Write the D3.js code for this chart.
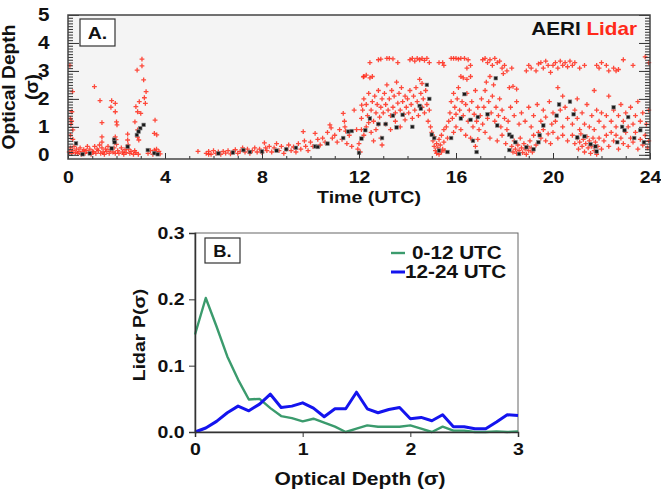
<!DOCTYPE html>
<html>
<head>
<meta charset="utf-8">
<script src="https://cdnjs.cloudflare.com/ajax/libs/d3/7.8.5/d3.min.js"></script>
<style>
  body { margin: 0; background: #fff; }
  text { font-family: "Liberation Sans", Arial, sans-serif; font-weight: bold; fill: #111; }
  .axis path, .axis line { stroke: #333; }
</style>
</head>
<body>
<div id="vis"></div>
<script>
// ---- panel A data: [time (UTC), optical depth] ----
var lidarPoints = [
  [0.05,0.1],[0.1,0.25],[0.15,0.05],[0.2,0.15],[0.25,0.3],[0.3,0.08],[0.35,0.2],[0.4,0.05],[0.45,0.12],[0.5,0.25],
  [0.55,0.02],[0.6,0.1],[0.65,0.18],[0.7,0.05],[0.75,0.15],[0.8,0.3],[0.85,0.08],[0.9,0.2],[0.95,0.02],[1.0,0.12],
  [0.08,3.2],[0.19,2.26],[0.16,1.54],[0.15,1.2],[0.12,1.1],[0.2,0.89],[0.1,0.7],[0.2,0.55],[0.1,1.3],
  [1.05,0.1],[1.1,0.3],[1.15,0.05],[1.2,0.2],[1.25,0.15],[1.3,0.35],[1.35,0.05],[1.4,0.25],[1.45,0.1],[1.5,0.02],
  [1.55,0.2],[1.6,0.12],[1.65,0.3],[1.7,0.05],[1.75,0.18],[1.85,0.1],[1.9,0.25],[1.95,0.05],
  [1.09,2.44],[1.32,1.94],[1.8,1.94],[1.95,1.84],[1.77,1.7],[1.95,1.54],[1.4,1.15],[2.0,1.18],[2.02,1.07],
  [1.4,0.64],[1.4,0.45],[1.95,0.64],[1.98,0.54],[2.0,0.37],
  [2.05,0.15],[2.1,0.05],[2.2,0.25],[2.25,0.1],[2.3,0.02],[2.35,0.18],[2.4,0.08],[2.5,0.2],[2.55,0.05],[2.6,0.12],
  [2.7,0.02],[2.75,0.15],[2.8,0.08],[2.9,0.02],
  [2.46,0.74],[2.46,0.53],[2.48,0.35],[3.05,3.42],[3.05,3.18],[2.85,3.03],[3.12,2.68],[3.22,2.26],[3.15,2.04],
  [2.94,1.9],[3.19,1.84],[2.8,1.72],[2.87,1.54],[3.0,1.48],[2.76,1.18],[2.87,0.89],[2.87,0.63],[2.92,0.53],
  [3.59,1.24],[3.56,0.77],[3.66,0.71],[3.56,0.17],
  [3.3,0.05],[3.4,0.15],[3.5,0.02],[3.6,0.1],[3.65,0.2],[3.7,0.05],[3.75,0.12],[3.8,0.03],
  [5.36,0.12],[5.8,0.02],
  [5.7,0.05],[5.8,0.12],[5.9,0.02],[6.0,0.15],[6.1,0.05],[6.2,0.1],[6.3,0.02],[6.4,0.12],[6.5,0.06],[6.6,0.15],
  [6.7,0.03],[6.8,0.1],[6.9,0.18],[7.0,0.05],[7.1,0.12],[7.2,0.25],[7.3,0.1],[7.4,0.2],[7.5,0.05],[7.6,0.15],
  [7.7,0.25],[7.8,0.1],[7.9,0.2],[8.0,0.08],[8.1,0.43],[8.15,0.25],
  [8.2,0.15],[8.3,0.3],[8.4,0.1],[8.5,0.25],[8.6,0.4],[8.7,0.15],[8.8,0.3],[8.9,0.05],[9.0,0.2],[9.1,0.35],
  [9.2,0.15],[9.3,0.28],[9.4,0.1],[9.5,0.4],[9.6,0.2],[9.7,0.83],[9.75,0.5],[9.8,0.3],[9.9,0.15],[10.0,0.45],
  [10.1,0.3],[10.19,0.77],[10.3,0.55],[10.4,0.35],[10.5,0.6],[10.6,0.45],[10.7,0.8],[10.8,1.07],[10.85,0.96],
  [10.9,0.6],[11.0,0.7],[11.1,0.45],[11.2,0.9],[11.3,0.55],[11.35,1.48],[11.4,1.2],[11.42,1.0],[11.45,0.85],
  [11.5,0.4],[11.6,0.7],[11.8,1.6],[11.9,0.9],[12.0,0.4],[12.05,0.1],[12.11,1.78],[12.18,2.79],[11.95,0.2],[11.7,0.3],
  [12.2,2.8],[12.3,2.85],[12.45,2.75],[12.55,2.8],[12.45,3.3],[12.8,3.4],[12.9,3.42],
  [12.1,1.3],[12.15,1.6],[12.2,2.0],[12.3,1.8],[12.35,1.4],[12.4,2.2],[12.5,1.6],[12.55,1.9],[12.6,1.2],[12.65,2.1],
  [12.7,1.5],[12.75,1.8],[12.8,2.3],[12.85,1.35],[12.9,1.7],[12.95,2.0],[13.0,1.5],
  [12.1,0.9],[12.2,0.7],[12.3,1.0],[12.5,0.8],[12.7,0.9],[12.9,0.6],[12.95,0.35],[12.8,1.1],[12.6,0.5],[12.4,1.15],
  [13.15,3.45],[13.25,3.45],[13.4,3.43],[13.6,3.3],
  [13.05,2.2],[13.1,1.8],[13.15,2.5],[13.2,1.6],[13.25,2.0],[13.3,1.4],[13.35,2.3],[13.4,1.7],[13.45,2.1],[13.5,1.5],
  [13.55,2.6],[13.6,1.85],[13.65,2.2],[13.7,1.6],[13.75,2.4],[13.8,1.9],[13.85,1.45],[13.9,2.1],[13.95,1.7],
  [13.1,1.1],[13.3,0.9],[13.5,1.2],[13.7,1.0],[13.9,1.25],
  [14.1,3.4],[14.2,3.45],[14.3,3.35],[14.4,3.45],[14.5,3.4],[14.6,3.45],[14.7,3.38],[14.8,3.45],[14.9,3.3],
  [14.5,2.7],[14.6,2.55],
  [14.0,2.0],[14.05,1.5],[14.1,2.3],[14.15,1.8],[14.2,1.3],[14.25,2.1],[14.3,1.6],[14.35,2.4],[14.4,1.9],[14.45,1.4],
  [14.55,2.2],[14.6,1.7],[14.65,2.0],[14.7,1.5],[14.75,2.3],[14.8,1.8],[14.85,1.2],[14.9,1.6],[14.95,1.0],
  [15.0,0.8],[15.05,0.5],[15.1,0.3],[15.1,0.65],[15.15,0.15],[15.2,0.4],[15.2,0.05],[15.25,0.25],[15.3,0.55],
  [15.3,0.02],[15.35,0.35],[15.4,0.1],[15.4,0.7],[15.45,0.2],[15.5,0.45],[15.5,0.9],[15.55,0.15],[15.6,1.0],
  [15.65,0.6],[15.7,1.2],[15.3,3.3],[15.45,3.3],[15.5,3.2],
  [15.8,3.45],[15.9,3.45],[16.0,3.45],[16.1,3.42],[16.2,3.45],[16.35,3.45],[16.5,3.4],[16.6,3.2],[16.45,3.1],
  [16.2,2.8],[16.3,2.75],[16.45,2.7],[16.6,2.8],
  [15.75,1.5],[15.8,1.9],[15.85,1.3],[15.9,2.2],[15.95,1.7],[16.0,1.45],[16.05,2.0],[16.1,2.4],[16.15,1.6],[16.25,1.9],
  [16.3,1.4],[16.4,1.8],[16.45,2.2],[16.5,1.2],[16.55,1.6],[16.65,1.9],[16.7,1.0],[16.75,1.45],[16.8,2.3],[16.85,1.2],
  [16.9,1.7],[16.95,0.9],
  [15.9,0.8],[16.0,1.0],[16.2,0.9],[16.4,0.7],[16.6,0.6],[16.8,0.3],[16.9,0.55],
  [17.1,3.4],[17.2,3.45],[17.3,3.3],[17.4,3.4],[17.5,3.2],[17.6,3.45],[17.7,3.3],[17.8,3.35],[17.9,3.1],[18.0,3.2],[18.1,3.0],
  [17.25,2.6],[17.4,2.8],[17.55,2.5],[17.95,2.9],
  [17.0,1.4],[17.05,2.0],[17.1,1.1],[17.15,1.7],[17.2,2.3],[17.3,1.3],[17.35,1.9],[17.45,1.5],[17.5,2.1],[17.6,1.2],
  [17.65,1.7],[17.75,1.4],[17.8,2.0],[17.85,1.0],[17.9,1.6],[18.0,1.3],[18.1,0.9],[18.15,1.2],
  [17.2,0.8],[17.4,0.6],[17.7,0.5],[17.9,0.7],[18.05,0.4],
  [18.3,3.1],[18.9,3.0],[19.0,3.2],[19.1,3.1],[19.3,3.0],[19.4,3.25],[19.5,3.3],[19.6,3.1],[19.7,3.35],[19.8,3.2],[19.9,2.95],
  [18.2,2.4],[18.35,2.45],[18.5,2.35],
  [18.25,1.7],[18.4,1.4],[18.5,1.9],[18.6,1.1],[18.7,1.5],[18.85,1.2],[19.0,1.7],[19.1,1.0],[19.2,1.4],[19.35,1.8],
  [19.5,1.2],[19.6,1.6],[19.7,1.35],[19.85,1.9],[19.95,1.1],
  [18.3,0.3],[18.35,0.1],[18.4,0.5],[18.45,0.2],[18.5,0.05],[18.55,0.35],[18.6,0.15],[18.65,0.6],[18.7,0.25],
  [18.75,0.08],[18.8,0.4],[18.85,0.2],[18.9,0.02],[18.95,0.3],[19.0,0.15],[19.05,0.5],[19.1,0.25],[19.15,0.1],
  [19.2,0.7],[19.3,0.35],[19.4,0.8],[19.5,0.6],[19.6,0.9],[19.7,0.5],[19.8,0.75],[19.9,0.4],
  [20.0,3.2],[20.1,3.3],[20.2,3.1],[20.3,3.35],[20.4,3.2],[20.5,3.3],[20.6,3.15],[20.7,3.35],[20.8,3.2],[20.9,3.3],
  [21.1,3.1],[21.3,3.2],[21.8,3.2],[21.9,3.1],[22.0,3.3],[22.2,3.2],[22.3,3.0],
  [20.4,2.1],[20.2,2.4],[21.0,2.0],[21.7,2.3],
  [20.0,1.5],[20.1,1.2],[20.3,1.6],[20.4,1.0],[20.5,1.7],[20.6,1.3],[20.8,1.1],[20.9,1.6],[21.0,1.3],[21.1,0.9],
  [21.2,1.5],[21.3,1.1],[21.4,1.8],[21.5,1.0],[21.6,1.4],[21.7,0.9],[21.8,1.6],[21.9,1.2],[22.0,1.5],
  [20.0,0.8],[20.2,0.6],[20.4,0.7],[20.6,0.5],[20.8,0.7],[20.9,0.4],[21.0,0.6],[21.05,0.2],[21.1,0.45],[21.15,0.75],
  [21.2,0.3],[21.25,0.55],[21.3,0.1],[21.35,0.4],[21.4,0.65],[21.45,0.25],[21.5,0.5],[21.55,0.05],[21.6,0.3],
  [21.65,0.6],[21.7,0.15],[21.75,0.45],[21.8,0.02],[21.85,0.3],[21.9,0.6],[22.0,0.2],
  [22.5,3.1],[22.6,3.0],[22.7,3.05],[22.9,3.4],[23.3,3.2],[23.8,3.5],[23.95,3.3],
  [22.1,1.0],[22.2,1.4],[22.3,2.1],[22.4,1.2],[22.5,1.6],[22.6,1.0],[22.7,1.4],[22.8,1.8],[22.9,1.2],[23.0,1.5],
  [23.1,1.0],[23.2,1.7],[23.3,1.1],[23.4,1.4],[23.5,1.9],[23.6,1.2],[23.7,1.5],[23.85,1.1],[23.95,1.6],
  [22.1,0.5],[22.2,0.7],[22.3,0.3],[22.4,0.8],[22.5,0.5],[22.6,0.7],[22.7,0.2],[22.8,0.6],[22.9,0.4],[23.0,0.8],
  [23.1,0.3],[23.2,0.6],[23.3,0.45],[23.4,0.8],[23.5,0.2],[23.6,0.55],[23.7,0.35],[23.8,0.7],[23.9,0.25],[23.95,0.5]
];
var aeriPoints = [
  [0.33,0.41],[0.6,0.02],[0.9,0.05],[1.9,0.54],[1.92,0.45],[1.8,0.23],[2.46,0.29],[3.12,1.07],[2.98,0.95],[2.91,0.83],
  [2.84,0.71],[3.29,0.17],[3.56,0.06],[3.7,0.02],
  [6.2,0.05],[6.8,0.08],[7.23,0.17],[7.5,0.1],[8.0,0.12],[8.6,0.15],[9.0,0.2],[9.4,0.25],[10.2,0.3],[10.3,0.28],
  [10.7,0.4],[11.35,0.6],[11.56,0.83],[11.7,0.85],[12.0,0.07],
  [12.45,1.3],[12.26,0.88],[12.1,0.58],[12.8,1.1],[13.1,1.1],[12.95,0.6],[13.4,1.4],[13.55,0.98],[13.8,1.43],
  [14.2,1.0],[14.5,1.75],[14.55,1.65],[14.8,2.5],[14.9,2.0],[15.0,0.72],[15.1,0.6],[15.3,0.15],[15.65,0.1],
  [15.8,0.6],[16.2,1.3],[16.35,2.17],[16.6,1.25],[16.7,0.5],[16.85,0.1],[16.9,1.35],[17.3,1.45],[17.64,2.74],
  [17.7,1.05],[18.2,0.72],[18.2,0.17],
  [18.3,0.65],[18.6,0.03],[18.45,0.45],[18.9,0.27],[19.2,0.2],[19.4,0.45],[19.6,1.05],[19.45,0.7],[20.15,1.4],
  [20.25,1.8],[20.7,1.9],[20.85,1.45],[21.0,0.62],[21.3,0.66],[21.55,0.38],[21.75,0.3],[21.8,0.12],[22.5,1.7],
  [22.65,0.45],[22.85,1.0],[23.1,1.35],[22.95,0.88],[23.35,0.6],[23.6,0.88],[23.75,0.45]
];
var timeTicks = [0, 4, 8, 12, 16, 20, 24];
var depthTicksA = [0, 1, 2, 3, 4, 5];

// ---- panel B data: lidar probability of optical depth ----
var depthBins = [0,0.1,0.2,0.3,0.4,0.5,0.6,0.7,0.8,0.9,1.0,1.1,1.2,1.3,1.4,1.5,1.6,1.7,1.8,1.9,2.0,
                 2.1,2.2,2.3,2.4,2.5,2.6,2.7,2.8,2.9,3.0];
var p0to12 = [0.147,0.202,0.159,0.114,0.079,0.049,0.05,0.036,0.024,0.021,0.016,0.02,0.014,0.008,0.0,0.005,
              0.01,0.008,0.008,0.008,0.01,0.005,0.0,0.008,0.002,0.002,0.0,0.0,0.001,0.0,0.001];
var p12to24 = [0.0,0.006,0.016,0.029,0.039,0.032,0.042,0.057,0.037,0.039,0.044,0.036,0.023,0.035,0.035,0.06,
               0.035,0.029,0.034,0.037,0.02,0.022,0.017,0.026,0.008,0.008,0.005,0.005,0.015,0.026,0.025];
var depthTicksB = [0, 1, 2, 3];
var probTicks = [0, 0.1, 0.2, 0.3];

var width = 661, height = 489;
var svg = d3.select('#vis').append('svg')
            .attr('width', width)
            .attr('height', height);

var stretch = 'scale(1.15,1)';

////////////////////////////////// Panel A //////////////////////////////////
var ax = d3.scaleLinear().domain([0, 24]).range([68, 650]);
var ay = d3.scaleLinear().domain([-0.15, 5]).range([159, 15]);

svg.append('rect')
   .attr('x', ax(0)).attr('y', ay(5))
   .attr('width', ax(24) - ax(0)).attr('height', ay(-0.15) - ay(5))
   .attr('fill', '#f4f4f4');

var plotA = svg.append('g');

plotA.selectAll('.lidar').data(lidarPoints).enter()
     .append('path')
     .attr('class', 'lidar')
     .attr('transform', function(d) { return 'translate(' + ax(d[0]) + ',' + ay(d[1]) + ')'; })
     .attr('d', 'M-2.4,0H2.4M0,-2.4V2.4')
     .attr('stroke', '#ff2a1a')
     .attr('stroke-width', 1.3)
     .attr('stroke-opacity', 0.85);

plotA.selectAll('.aeri').data(aeriPoints).enter()
     .append('rect')
     .attr('class', 'aeri')
     .attr('x', function(d) { return ax(d[0]) - 1.8; })
     .attr('y', function(d) { return ay(d[1]) - 1.8; })
     .attr('width', 3.6).attr('height', 3.6)
     .attr('fill', '#1a1a1a')
     .attr('stroke', '#888')
     .attr('stroke-width', 0.6);

// minor and major ticks, all pointing inward
var minorY = d3.range(0, 5.01, 0.1);
svg.append('g').attr('class', 'axis').attr('transform', 'translate(' + ax(0) + ',0)')
   .call(d3.axisLeft(ay).tickValues(minorY).tickSize(-5).tickFormat(''))
   .select('.domain').remove();
svg.append('g').attr('class', 'axis').attr('transform', 'translate(' + ax(24) + ',0)')
   .call(d3.axisRight(ay).tickValues(minorY).tickSize(-5).tickFormat(''))
   .select('.domain').remove();
svg.append('g').attr('class', 'axis').attr('transform', 'translate(' + ax(24) + ',0)')
   .call(d3.axisRight(ay).tickValues(depthTicksA).tickSize(-11).tickFormat(''))
   .select('.domain').remove();
svg.append('g').attr('class', 'axis').attr('transform', 'translate(0,' + ay(-0.15) + ')')
   .call(d3.axisBottom(ax).tickValues(d3.range(0, 25, 1)).tickSize(-3).tickFormat(''))
   .select('.domain').remove();

var yAxisA = svg.append('g').attr('class', 'axis')
   .attr('transform', 'translate(' + ax(0) + ',0)')
   .call(d3.axisLeft(ay).tickValues(depthTicksA).tickSize(-11).tickPadding(16).tickFormat(d3.format('d')));
yAxisA.select('.domain').remove();
yAxisA.selectAll('text').style('font-size', '18px').attr('transform', stretch);

var xAxisA = svg.append('g').attr('class', 'axis')
   .attr('transform', 'translate(0,' + ay(-0.15) + ')')
   .call(d3.axisBottom(ax).tickValues(timeTicks).tickSize(-6).tickPadding(12).tickFormat(d3.format('d')));
xAxisA.select('.domain').remove();
xAxisA.selectAll('text').style('font-size', '17px').attr('transform', stretch);

svg.append('rect')
   .attr('x', ax(0)).attr('y', ay(5))
   .attr('width', ax(24) - ax(0)).attr('height', ay(-0.15) - ay(5))
   .attr('fill', 'none').attr('stroke', '#444').attr('stroke-width', 1.5);

svg.append('text')
   .attr('transform', 'translate(369,203) ' + stretch)
   .attr('text-anchor', 'middle')
   .style('font-size', '17px')
   .text('Time (UTC)');

svg.append('text')
   .attr('transform', 'translate(15,87) rotate(-90) scale(1.1,1)')
   .attr('text-anchor', 'middle')
   .style('font-size', '17.5px')
   .text('Optical Depth');
svg.append('text')
   .attr('transform', 'translate(38,87) rotate(-90) scale(1.1,1)')
   .attr('text-anchor', 'middle')
   .style('font-size', '17.5px')
   .text('(σ)');

svg.append('rect')
   .attr('x', 80).attr('y', 19).attr('width', 35).attr('height', 27)
   .attr('fill', '#fff').attr('stroke', '#333').attr('stroke-width', 1.2);
svg.append('text')
   .attr('transform', 'translate(97.5,39) ' + stretch)
   .attr('text-anchor', 'middle')
   .style('font-size', '17px')
   .text('A.');

var legA = svg.append('text')
   .attr('transform', 'translate(637,35) ' + stretch)
   .attr('text-anchor', 'end')
   .style('font-size', '18px');
legA.append('tspan').text('AERI ').style('fill', '#111');
legA.append('tspan').text('Lidar').style('fill', '#ff2a1a');

////////////////////////////////// Panel B //////////////////////////////////
var bx = d3.scaleLinear().domain([0, 3]).range([195, 518]);
var by = d3.scaleLinear().domain([0, 0.3]).range([432, 233]);

var seriesB = [
  { name: '0-12 UTC', values: p0to12, color: '#3b9b6d', width: 2.4, textX: 21 },
  { name: '12-24 UTC', values: p12to24, color: '#1414ee', width: 3, textX: 14 }
];

var line = d3.line()
   .x(function(d, i) { return bx(depthBins[i]); })
   .y(function(d) { return by(d); });

svg.append('rect')
   .attr('x', bx(0)).attr('y', by(0.3))
   .attr('width', bx(3) - bx(0)).attr('height', by(0) - by(0.3))
   .attr('fill', 'none').attr('stroke', '#666').attr('stroke-width', 1);

svg.selectAll('.series').data(seriesB).enter()
   .append('path')
   .attr('class', 'series')
   .attr('d', function(d) { return line(d.values); })
   .attr('fill', 'none')
   .attr('stroke', function(d) { return d.color; })
   .attr('stroke-width', function(d) { return d.width; })
   .attr('stroke-linejoin', 'round');

var yAxisB = svg.append('g').attr('class', 'axis')
   .attr('transform', 'translate(' + bx(0) + ',0)')
   .call(d3.axisLeft(by).tickValues(probTicks).tickSize(6).tickPadding(3).tickFormat(d3.format('.1f')));
yAxisB.select('.domain').attr('stroke-width', 1.5).attr('stroke', '#111');
yAxisB.selectAll('text').style('font-size', '17px').attr('transform', stretch);

var xAxisB = svg.append('g').attr('class', 'axis')
   .attr('transform', 'translate(0,' + by(0) + ')')
   .call(d3.axisBottom(bx).tickValues(depthTicksB).tickSize(5).tickPadding(6).tickFormat(d3.format('d')));
xAxisB.select('.domain').attr('stroke-width', 1.5).attr('stroke', '#111');
xAxisB.selectAll('text').style('font-size', '17px').attr('transform', stretch);

svg.append('text')
   .attr('transform', 'translate(360,485) ' + stretch)
   .attr('text-anchor', 'middle')
   .style('font-size', '18.3px')
   .text('Optical Depth (σ)');

svg.append('text')
   .attr('transform', 'translate(145,335) rotate(-90) scale(1.15,1)')
   .attr('text-anchor', 'middle')
   .style('font-size', '17px')
   .text('Lidar P(σ)');

svg.append('rect')
   .attr('x', 205).attr('y', 238).attr('width', 35).attr('height', 25)
   .attr('fill', '#fff').attr('stroke', '#333').attr('stroke-width', 1.2);
svg.append('text')
   .attr('transform', 'translate(222.5,257) ' + stretch)
   .attr('text-anchor', 'middle')
   .style('font-size', '16px')
   .text('B.');

var legB = svg.selectAll('.legB').data(seriesB).enter()
   .append('g')
   .attr('class', 'legB')
   .attr('transform', function(d, i) { return 'translate(391,' + (253 + i * 19) + ')'; });
legB.append('line')
   .attr('x1', 0).attr('x2', 14)
   .attr('stroke', function(d) { return d.color; })
   .attr('stroke-width', function(d) { return d.width; });
legB.append('text')
   .attr('transform', function(d) { return 'translate(' + d.textX + ',6) ' + stretch; })
   .style('font-size', '18px')
   .text(function(d) { return d.name; });
</script>
</body>
</html>
